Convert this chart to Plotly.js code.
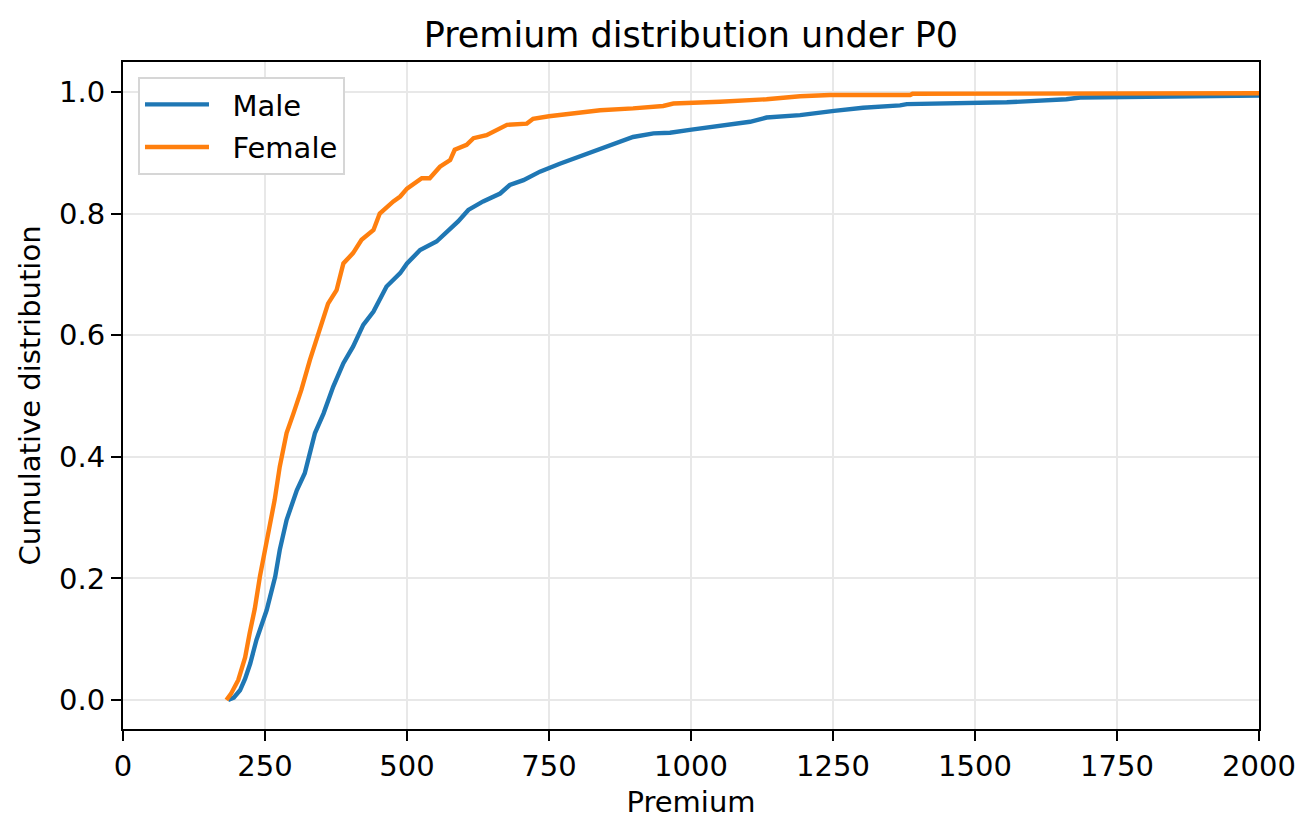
<!DOCTYPE html>
<html>
<head>
<meta charset="utf-8">
<script src="https://cdn.plot.ly/plotly-3.0.1.min.js"></script>
<style>html,body{margin:0;padding:0;background:#fff;}#chart{width:1316px;height:834px;}</style>
</head>
<body>
<div id="chart"></div>
<script>
// Male empirical CDF (premium, cumulative share)
const malePremium = [185,195,206,215,224,235,253,268,276,288,306,320,329,338,353,370,388,405,423,441,464,488,500,523,552,570,590,608,634,664,681,705,734,769,805,840,875,898,934,963,1001,1028,1069,1104,1133,1192,1252,1303,1368,1380,1556,1661,1685,1812,2000];
const maleCdf = [0,0.004,0.016,0.035,0.060,0.099,0.148,0.203,0.247,0.296,0.345,0.373,0.406,0.439,0.471,0.515,0.554,0.581,0.617,0.639,0.680,0.702,0.718,0.740,0.754,0.770,0.787,0.806,0.820,0.833,0.847,0.855,0.869,0.882,0.894,0.907,0.918,0.926,0.932,0.933,0.938,0.941,0.946,0.951,0.958,0.962,0.969,0.974,0.978,0.980,0.983,0.988,0.991,0.992,0.994];
// Female empirical CDF
const femalePremium = [182,190,203,215,223,232,241,256,267,276,288,300,314,329,347,361,376,388,405,420,441,452,476,488,500,526,540,558,576,584,605,617,640,664,676,711,722,750,793,840,898,951,969,1001,1051,1133,1192,1245,1386,1390,1641,1645,2000];
const femaleCdf = [0,0.01,0.033,0.07,0.11,0.15,0.203,0.274,0.329,0.384,0.439,0.471,0.51,0.559,0.614,0.652,0.674,0.718,0.735,0.757,0.773,0.80,0.82,0.828,0.841,0.858,0.858,0.877,0.888,0.905,0.913,0.924,0.929,0.940,0.946,0.948,0.956,0.960,0.964,0.970,0.973,0.977,0.981,0.982,0.984,0.988,0.993,0.995,0.995,0.997,0.997,0.998,0.998];
const xTicks = [0,250,500,750,1000,1250,1500,1750,2000];
const yTicks = [0,0.2,0.4,0.6,0.8,1.0];
const yTickText = ["0.0","0.2","0.4","0.6","0.8","1.0"];

const F = "DejaVu Sans, sans-serif";
const NB = "\u00a0\u00a0";
const traces = [
  {x: malePremium, y: maleCdf, name: NB + "Male", mode: "lines", legendgroup: "m",
   line: {color: "#1f77b4", width: 4.4}},
  {x: femalePremium, y: femaleCdf, name: NB + "Female", mode: "lines", legendgroup: "f",
   line: {color: "#ff7f0e", width: 4.4}}
];
const axisCommon = {
  showline: true, linecolor: "#000", linewidth: 2, mirror: true,
  ticks: "outside", ticklen: 10, tickwidth: 2, tickcolor: "#000",
  showgrid: true, gridcolor: "#e8e8e8", gridwidth: 2, zeroline: false,
  tickfont: {family: F, size: 29, color: "#000"}
};
const layout = {
  width: 1316, height: 834,
  paper_bgcolor: "#fff", plot_bgcolor: "#fff",
  margin: {l: 123, r: 57, t: 62, b: 105},
  title: {text: "Premium distribution under P0", font: {family: F, size: 35, color: "#000"},
          x: 0.525, xanchor: "center", y: 0.958, yanchor: "middle"},
  xaxis: Object.assign({}, axisCommon, {
    range: [0, 2000], tickvals: xTicks, ticktext: xTicks.map(String),
    title: {text: "Premium", font: {family: F, size: 29, color: "#000"}, standoff: 10},
    automargin: false
  }),
  yaxis: Object.assign({}, axisCommon, {
    range: [-0.0477, 1.0493], tickvals: yTicks, ticktext: yTickText,
    title: {text: "Cumulative distribution", font: {family: F, size: 29, color: "#000"}, standoff: 10},
    automargin: false
  }),
  showlegend: true,
  legend: {x: 0.0132, y: 0.9775, xanchor: "left", yanchor: "top",
           bgcolor: "#fff", bordercolor: "#d6d6d6", borderwidth: 2,
           traceorder: "grouped", tracegroupgap: 2,
           font: {family: F, size: 29, color: "#000"}, itemwidth: 64}
};
Plotly.newPlot("chart", traces, layout, {displayModeBar: false, staticPlot: true});
</script>
</body>
</html>
